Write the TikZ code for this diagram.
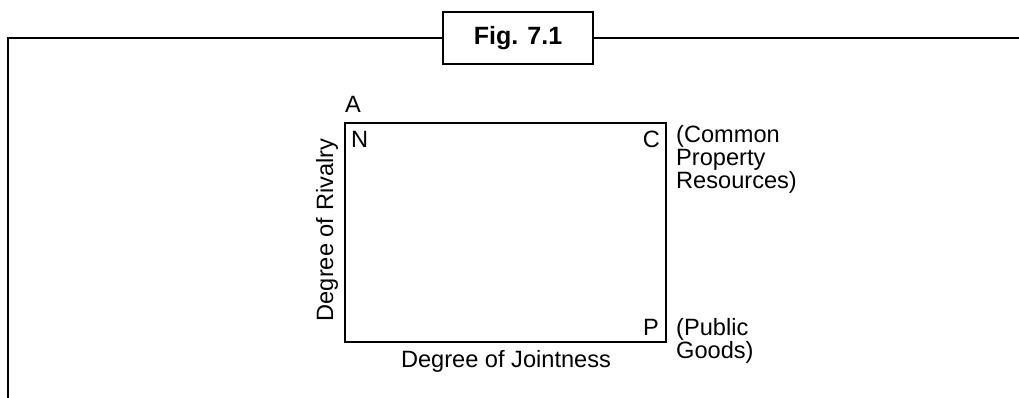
\documentclass[tikz,border=0pt]{standalone}
\usepackage{fontspec}
\setmainfont{Liberation Sans}
\begin{document}
\begin{tikzpicture}[x=1pt,y=-1pt,
  rule/.style={line width=2pt,line cap=rect},
  lbl/.style={inner sep=0pt,font=\fontsize{23.6}{22.8}\selectfont},
  figbox/.style={draw,line width=2pt,minimum width=150pt,minimum height=52pt,
    inner sep=0pt,font=\fontsize{25}{28}\selectfont\bfseries}]
\useasboundingbox (0,0) rectangle (1019,397);

% outer frame with the caption box on its top edge
\node[figbox] (fig) at (518,38) {Fig. 7.1};
\coordinate (fbl) at (8,398);
\coordinate (ftl) at (8,38);
\coordinate (ftr) at (1020,38);
\draw[rule] (fbl) -- (ftl) -- (fig.west);
\draw[rule] (fig.east) -- (ftr);

% goods classification box
\coordinate (nw) at (345,123);
\coordinate (se) at (666,342);
\draw[line width=2pt] (nw) rectangle (se);

\node[lbl,anchor=base west] (a) at (345,112) {A};
\node[lbl,anchor=base west] (n) at (351,147) {N};
\node[lbl,anchor=base east] (c) at (660,147) {C};
\node[lbl,anchor=base east] (p) at (659,335) {P};

% multi-line labels: the base anchor sits on the last line
\node[lbl,anchor=base west,align=left] (cpr) at (676,188) {(Common\\Property\\Resources)};
\node[lbl,anchor=base west,align=left] (pg) at (676,358) {(Public\\Goods)};

\node[lbl,anchor=base] (joint) at (506,367) {Degree of Jointness};
\node[lbl,anchor=base,rotate=90] (rival) at (333,230) {Degree of Rivalry};
\end{tikzpicture}
\end{document}
